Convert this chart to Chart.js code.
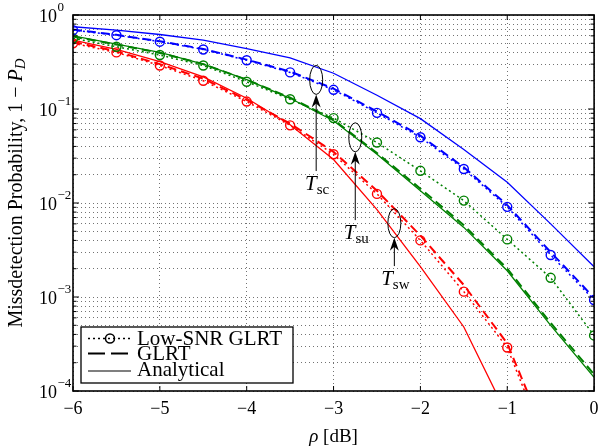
<!DOCTYPE html>
<html>
<head>
<meta charset="utf-8">
<script src="https://cdn.jsdelivr.net/npm/chart.js@4/dist/chart.umd.min.js"></script>
<style>
  html, body { margin: 0; padding: 0; background: #fff; }
  #wrap { width: 600px; height: 447px; }
</style>
</head>
<body>
<div id="wrap"><canvas id="chart"></canvas></div>
<script>
// rho in dB (x axis)
const rho = [-6, -5.5, -5, -4.5, -4, -3.5, -3, -2.5, -2, -1.5, -1, -0.5, 0];

// Missdetection probability 1 - P_D
const blueLowSnr  = [0.69, 0.61, 0.52, 0.43, 0.33, 0.245, 0.16, 0.091, 0.050, 0.023, 0.0091, 0.0028, 0.00093];
const blueGlrt    = [0.70, 0.615, 0.525, 0.435, 0.335, 0.25, 0.165, 0.094, 0.052, 0.024, 0.0095, 0.0030, 0.00098];
const blueAna     = [0.75, 0.69, 0.62, 0.54, 0.44, 0.35, 0.24, 0.14, 0.079, 0.037, 0.0166, 0.0060, 0.0021];

const greenLowSnr = [0.565, 0.46, 0.375, 0.29, 0.195, 0.127, 0.080, 0.044, 0.022, 0.0106, 0.0041, 0.0016, 0.00039];
const greenGlrt   = [0.59, 0.485, 0.395, 0.30, 0.205, 0.132, 0.077, 0.034, 0.0142, 0.0058, 0.0020, 0.00053, 0.00015];
const greenAna    = [0.60, 0.49, 0.40, 0.30, 0.205, 0.13, 0.075, 0.033, 0.0135, 0.0055, 0.0019, 0.00050, 0.00014];

const redLowSnr   = [0.50, 0.40, 0.29, 0.20, 0.12, 0.067, 0.033, 0.0125, 0.0040, 0.00114, 0.00029, 0.00002, null];
const redGlrt     = [0.52, 0.41, 0.30, 0.21, 0.125, 0.070, 0.035, 0.0135, 0.0045, 0.00134, 0.00032, 0.000025, null];
const redAna      = [0.54, 0.43, 0.32, 0.22, 0.13, 0.068, 0.029, 0.0085, 0.0021, 0.00048, 0.000055, null, null];

// axis ticks
const xTicks = [-6, -5, -4, -3, -2, -1, 0];
const yMajor = [1e-4, 1e-3, 1e-2, 1e-1, 1];

// callouts: ellipse centre and label position in data units
const callouts = [
  { sub: 'sc', x: -3.2,  y: 0.204,  labelY: 0.0163 },
  { sub: 'su', x: -2.75, y: 0.050,  labelY: 0.0049 },
  { sub: 'sw', x: -2.30, y: 0.0061, labelY: 0.00159 }
];

const legendItems = ['Low-SNR GLRT', 'GLRT', 'Analytical'];

const FONT = 'Liberation Serif';
Chart.defaults.font.family = FONT;

const yTickList = [];
yMajor.forEach((v, i) => {
  yTickList.push({ value: v, major: true });
  if (i < yMajor.length - 1) {
    for (let m = 2; m <= 9; m++) yTickList.push({ value: v * m, major: false });
  }
});

function pts(arr) {
  return rho.map((r, i) => ({ x: r, y: arr[i] }));
}

function lowSnr(arr, color) {
  return {
    data: pts(arr), borderColor: color, borderWidth: 1.5, borderDash: [2, 3],
    pointRadius: 4.5, pointBorderWidth: 1.4, pointBorderColor: color,
    pointBackgroundColor: 'rgba(0,0,0,0)', tension: 0
  };
}
function glrt(arr, color) {
  return { data: pts(arr), borderColor: color, borderWidth: 2, borderDash: [9, 5], pointRadius: 0, tension: 0 };
}
function analytical(arr, color) {
  return { data: pts(arr), borderColor: color, borderWidth: 1.3, pointRadius: 0, tension: 0 };
}

function drawRich(ctx, parts, x, y, align) {
  // parts: [{t, font, dy}]
  let w = 0;
  parts.forEach(p => { ctx.font = p.font; w += ctx.measureText(p.t).width; });
  let cx = align === 'center' ? x - w / 2 : x;
  parts.forEach(p => {
    ctx.font = p.font;
    ctx.fillText(p.t, cx, y + (p.dy || 0));
    cx += ctx.measureText(p.t).width;
  });
}

const decor = {
  id: 'decor',
  afterDraw(chart) {
    const { ctx, chartArea: a, scales: { x, y } } = chart;
    ctx.save();
    ctx.strokeStyle = '#000';
    ctx.fillStyle = '#000';
    ctx.setLineDash([]);

    // inner tick marks
    ctx.lineWidth = 1;
    ctx.beginPath();
    xTicks.forEach(v => {
      const px = x.getPixelForValue(v);
      ctx.moveTo(px, a.bottom); ctx.lineTo(px, a.bottom - 5);
      ctx.moveTo(px, a.top); ctx.lineTo(px, a.top + 5);
    });
    yTickList.forEach(t => {
      const py = y.getPixelForValue(t.value);
      const len = t.major ? 6 : 3.5;
      ctx.moveTo(a.left, py); ctx.lineTo(a.left + len, py);
      ctx.moveTo(a.right, py); ctx.lineTo(a.right - len, py);
    });
    ctx.stroke();

    // frame
    ctx.lineWidth = 1.6;
    ctx.strokeRect(a.left, a.top, a.right - a.left, a.bottom - a.top);

    // y tick labels 10^k
    ctx.textBaseline = 'middle';
    yMajor.forEach(v => {
      const py = y.getPixelForValue(v);
      const e = Math.round(Math.log10(v));
      ctx.font = '18px ' + FONT;
      ctx.textAlign = 'right';
      ctx.fillText('10', a.left - 16, py + 2);
      ctx.font = '13px ' + FONT;
      ctx.textAlign = 'left';
      ctx.fillText(e < 0 ? '\u2212' + (-e) : String(e), a.left - 15.5, py - 7);
    });

    // y title
    ctx.save();
    ctx.translate(17, 193);
    ctx.rotate(-Math.PI / 2);
    ctx.textAlign = 'left';
    ctx.textBaseline = 'middle';
    drawRich(ctx, [
      { t: 'Missdetection Probability, 1 \u2212 ', font: '20px ' + FONT },
      { t: 'P', font: 'italic 20px ' + FONT },
      { t: 'D', font: 'italic 15px ' + FONT, dy: 4 }
    ], 0, 0, 'center');
    ctx.restore();

    // x title
    ctx.textAlign = 'left';
    ctx.textBaseline = 'alphabetic';
    drawRich(ctx, [
      { t: '\u03C1', font: 'italic 19px ' + FONT },
      { t: ' [dB]', font: '19px ' + FONT }
    ], (a.left + a.right) / 2, 442, 'center');

    // callouts
    callouts.forEach(c => {
      const px = x.getPixelForValue(c.x);
      const py = y.getPixelForValue(c.y);
      const ly = y.getPixelForValue(c.labelY);
      const ry = 14.5, rx = 6.5;
      ctx.lineWidth = 1;
      ctx.beginPath();
      ctx.ellipse(px, py, rx, ry, 0, 0, Math.PI * 2);
      ctx.stroke();
      const tip = py + ry;
      ctx.beginPath();
      ctx.moveTo(px, ly - 12); ctx.lineTo(px, tip + 8);
      ctx.stroke();
      ctx.beginPath();
      ctx.moveTo(px, tip);
      ctx.lineTo(px - 4.5, tip + 13);
      ctx.lineTo(px, tip + 9);
      ctx.lineTo(px + 4.5, tip + 13);
      ctx.closePath();
      ctx.fill();
      ctx.textBaseline = 'alphabetic';
      drawRich(ctx, [
        { t: 'T', font: 'italic 21px ' + FONT },
        { t: c.sub, font: '15px ' + FONT, dy: 4 }
      ], px + 1, ly + 7, 'center');
    });

    // legend
    const lx = 81, ly0 = 327, lw = 212, lh = 56;
    ctx.fillStyle = '#fff';
    ctx.fillRect(lx, ly0, lw, lh);
    ctx.lineWidth = 1.3;
    ctx.strokeRect(lx, ly0, lw, lh);
    ctx.fillStyle = '#000';
    const rowsLine = [338.5, 353.5, 371];
    const rowsText = [345, 360, 376];
    // sample lines
    ctx.lineWidth = 1.5;
    ctx.setLineDash([2, 3]);
    ctx.beginPath(); ctx.moveTo(88, rowsLine[0]); ctx.lineTo(131, rowsLine[0]); ctx.stroke();
    ctx.setLineDash([]);
    ctx.beginPath(); ctx.arc(110, rowsLine[0], 4.5, 0, Math.PI * 2); ctx.stroke();
    ctx.lineWidth = 2;
    ctx.setLineDash([17, 6]);
    ctx.beginPath(); ctx.moveTo(88, rowsLine[1]); ctx.lineTo(131, rowsLine[1]); ctx.stroke();
    ctx.setLineDash([]);
    ctx.lineWidth = 1.2;
    ctx.beginPath(); ctx.moveTo(88, rowsLine[2]); ctx.lineTo(131, rowsLine[2]); ctx.stroke();
    ctx.font = '21px ' + FONT;
    ctx.textAlign = 'left';
    ctx.textBaseline = 'alphabetic';
    legendItems.forEach((s, i) => ctx.fillText(s, 137, rowsText[i]));

    ctx.restore();
  }
};

new Chart(document.getElementById('chart'), {
  type: 'line',
  data: {
    datasets: [
      lowSnr(blueLowSnr, '#0000ff'), glrt(blueGlrt, '#0000ff'), analytical(blueAna, '#0000ff'),
      lowSnr(greenLowSnr, '#008000'), glrt(greenGlrt, '#008000'), analytical(greenAna, '#008000'),
      lowSnr(redLowSnr, '#ff0000'), glrt(redGlrt, '#ff0000'), analytical(redAna, '#ff0000')
    ]
  },
  options: {
    responsive: true,
    maintainAspectRatio: false,
    animation: false,
    layout: { padding: { top: 15, right: 3, left: 0, bottom: 0 } },
    plugins: { legend: { display: false }, tooltip: { enabled: false } },
    scales: {
      x: {
        type: 'linear', min: -6, max: 0,
        afterBuildTicks: s => { s.ticks = xTicks.map(v => ({ value: v })); },
        afterFit: s => { s.height = 56; s.paddingLeft = 0; s.paddingRight = 0; },
        ticks: {
          color: '#000', font: { size: 18 }, padding: 7, maxRotation: 0, autoSkip: false,
          callback: v => (v < 0 ? '\u2212' + (-v) : String(v))
        },
        grid: { color: 'rgba(0,0,0,0.55)', lineWidth: 1, drawTicks: false },
        border: { display: false, dash: [1, 3] }
      },
      y: {
        type: 'logarithmic', min: 1e-4, max: 1,
        afterBuildTicks: s => { s.ticks = yTickList.map(t => ({ value: t.value })); },
        afterFit: s => { s.width = 73; s.paddingTop = 0; s.paddingBottom = 0; },
        ticks: { display: false },
        grid: { color: 'rgba(0,0,0,0.55)', lineWidth: 1, drawTicks: false },
        border: { display: false, dash: [1, 3] }
      }
    }
  },
  plugins: [decor]
});
</script>
</body>
</html>
